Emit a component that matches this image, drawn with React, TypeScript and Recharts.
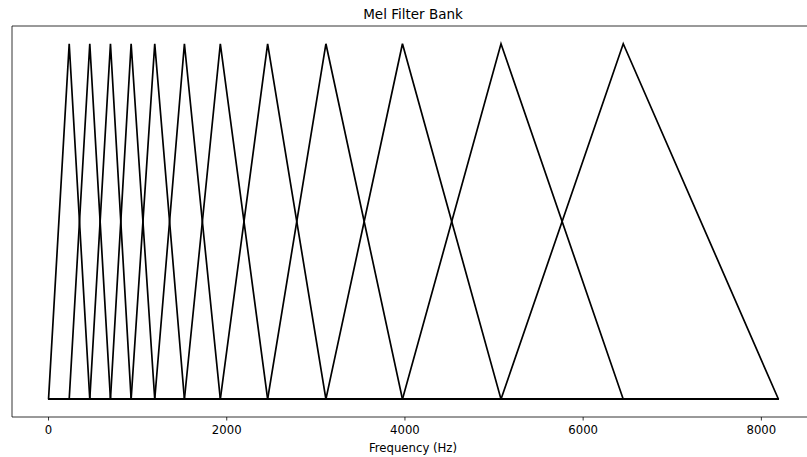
import { LineChart, Line, XAxis, YAxis, ReferenceArea } from 'recharts';

// filter edge frequencies (Hz); filter i peaks at edge i
const filterEdges = [0, 232, 463, 695, 927, 1192, 1525, 1928, 2459, 3113, 3972, 5078, 6450, 8192];
const peakWeight = 1;
const xTicks = [0, 2000, 4000, 6000, 8000];

const xDomain = [-410, 8602];
const yDomain = [-0.05, 1.05];

const lastF = filterEdges[filterEdges.length - 1];

const filters = filterEdges.slice(1, -1).map((peak, i) => [
    { f: 0, w: 0 },
    { f: filterEdges[i], w: 0 },
    { f: peak, w: peakWeight },
    { f: filterEdges[i + 2], w: 0 },
    { f: lastF, w: 0 },
]);

const font = '"DejaVu Sans", sans-serif';

export default function App() {
    return (
        <div style={{ position: 'absolute', left: 0, top: 0, width: 807, height: 457, overflow: 'hidden', background: '#fff' }}>
            <LineChart width={830} height={457} margin={{ top: 26, right: 15, left: 12, bottom: 0 }}>
                <XAxis
                    type="number"
                    dataKey="f"
                    domain={xDomain}
                    allowDataOverflow
                    ticks={xTicks}
                    height={40}
                    axisLine={false}
                    tickSize={3.5}
                    tickMargin={5}
                    tickLine={{ stroke: '#000', strokeWidth: 0.8 }}
                    tick={{ fill: '#000', fontSize: 11.7, fontFamily: font }}
                />
                <YAxis type="number" dataKey="w" domain={yDomain} allowDataOverflow hide />
                <ReferenceArea
                    x1={xDomain[0]}
                    x2={xDomain[1]}
                    y1={yDomain[0]}
                    y2={yDomain[1]}
                    fill="none"
                    stroke="#000"
                    strokeWidth={0.8}
                    fillOpacity={0}
                />
                {filters.map((pts, i) => (
                    <Line
                        key={i}
                        data={pts}
                        dataKey="w"
                        type="linear"
                        stroke="#000"
                        strokeWidth={1.7}
                        dot={false}
                        activeDot={false}
                        isAnimationActive={false}
                    />
                ))}
            </LineChart>
            <svg width={807} height={457} style={{ position: 'absolute', left: 0, top: 0, pointerEvents: 'none' }}>
                <text x={413} y={19} textAnchor="middle" fontSize={13.5} fontFamily={font} fill="#000">
                    Mel Filter Bank
                </text>
                <text x={413} y={452} textAnchor="middle" fontSize={11.7} fontFamily={font} fill="#000">
                    Frequency (Hz)
                </text>
            </svg>
        </div>
    );
}
